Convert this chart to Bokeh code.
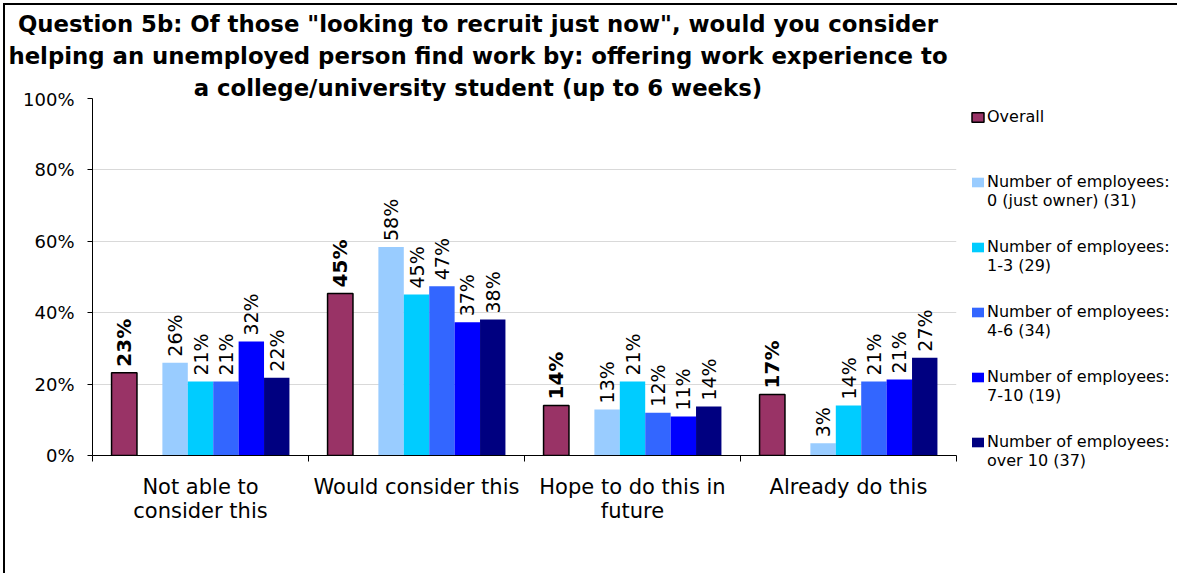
import numpy as np
from bokeh.plotting import figure
from bokeh.layouts import column
from bokeh.models import Range1d, FixedTicker, PrintfTickFormatter, Legend, LegendItem, Div
from bokeh.core.properties import value
from bokeh.embed import file_html
from bokeh.resources import INLINE

# ---------------- data ----------------
categories = ["Not able to\nconsider this", "Would consider this",
              "Hope to do this in\nfuture", "Already do this"]
series_names = ["Overall",
                "Number of employees:\n0 (just owner) (31)",
                "Number of employees:\n1-3 (29)",
                "Number of employees:\n4-6 (34)",
                "Number of employees:\n7-10 (19)",
                "Number of employees:\nover 10 (37)"]
overall = [23.2, 45.4, 14.0, 17.1]
emp_0 = [26.0, 58.4, 12.9, 3.4]
emp_1_3 = [20.7, 45.1, 20.7, 14.0]
emp_4_6 = [20.7, 47.4, 12.0, 20.7]
emp_7_10 = [31.9, 37.3, 10.9, 21.3]
emp_over_10 = [21.8, 38.1, 13.7, 27.4]
y_ticks = [0, 20, 40, 60, 80, 100]
title_lines = ['Question 5b: Of those &quot;looking to recruit just now&quot;, would you consider',
               'helping an unemployed person find work by: offering work experience to',
               'a college/university student (up to 6 weeks)']
colors = ["#993366", "#99CCFF", "#00CCFF", "#3366FF", "#0000FF", "#000080"]

series = [overall, emp_0, emp_1_3, emp_4_6, emp_7_10, emp_over_10]
slots = [0, 2, 3, 4, 5, 6]          # slot 1 is an empty gap in each group
n_slots_total = 8.5                 # 7 slots + 150% gap width
bar_w = 1.0 / n_slots_total
FONT = "DejaVu Sans"

p = figure(frame_width=864, frame_height=357,
           min_border_left=87, min_border_right=215,
           min_border_top=10, min_border_bottom=118,
           x_range=Range1d(0, 4), y_range=Range1d(0, 100),
           output_backend="svg", toolbar_location=None, tools="")
p.outline_line_color = None
p.background_fill_alpha = 0
p.border_fill_alpha = 0

group_idx = np.arange(len(categories))
renderers = []
for i, (vals, slot, col) in enumerate(zip(series, slots, colors)):
    xs = group_idx + (0.75 + slot + 0.5) / n_slots_total
    if i == 0:
        r = p.vbar(x=xs, top=vals, bottom=0, width=bar_w, fill_color=col,
                   line_color="black", line_width=1.5)
    else:
        r = p.vbar(x=xs, top=vals, bottom=0, width=bar_w, fill_color=col,
                   line_color=None)
    renderers.append(r)
    labels = ["%d%%" % round(v) for v in vals]
    p.text(x=xs, y=vals, text=labels, angle=np.pi / 2,
           text_align="left", text_baseline="middle", y_offset=-6,
           text_font=value(FONT),
           text_font_size="20px" if i == 0 else "19px",
           text_font_style="bold" if i == 0 else "normal",
           text_color="black")

# axes
p.xaxis.ticker = FixedTicker(ticks=list(group_idx + 0.5),
                             minor_ticks=list(range(len(categories) + 1)))
p.xaxis.major_label_overrides = {float(g + 0.5): c for g, c in zip(group_idx, categories)}
p.xaxis.major_tick_out = 0
p.xaxis.major_tick_in = 0
p.xaxis.minor_tick_out = 6
p.xaxis.minor_tick_in = 0
p.xaxis.minor_tick_line_color = "black"
p.xaxis.axis_line_color = "black"
p.xaxis.major_label_text_font = FONT
p.xaxis.major_label_text_font_size = "21px"
p.xaxis.major_label_text_line_height = 1.0
p.xaxis.major_label_text_color = "black"
p.xaxis.major_label_standoff = 13

p.yaxis.ticker = FixedTicker(ticks=y_ticks)
p.yaxis.formatter = PrintfTickFormatter(format="%d%%")
p.yaxis.major_tick_out = 5
p.yaxis.major_tick_in = 0
p.yaxis.minor_tick_out = 0
p.yaxis.minor_tick_in = 0
p.yaxis.axis_line_color = "black"
p.yaxis.major_tick_line_color = "black"
p.yaxis.major_label_text_font = FONT
p.yaxis.major_label_text_font_size = "18px"
p.yaxis.major_label_text_color = "black"
p.yaxis.major_label_standoff = 13

p.xgrid.visible = False
p.ygrid.grid_line_color = "#D9D9D9"

# legend: pad each label with a blank first line so the glyph (vertically
# centred in the item) sits beside the first text line
legend_labels = [" \n" + n + ("\n " if "\n" not in n else "") for n in series_names]
legend = Legend(items=[LegendItem(label=n, renderers=[r]) for n, r in zip(legend_labels, renderers)],
                location=(14, -15), spacing=8, padding=0, margin=0,
                glyph_width=15, glyph_height=12, label_standoff=2,
                label_text_font=FONT, label_text_font_size="16px",
                label_text_color="black",
                border_line_color=None, background_fill_alpha=0)
p.add_layout(legend, "right")

title_div = Div(text="<br>".join(title_lines), width=946, height=80, margin=(3, 0, 0, 0),
                styles={"font-family": FONT, "font-weight": "bold", "font-size": "22.8px",
                        "line-height": "32px", "text-align": "center", "color": "black",
                        "overflow": "visible", "white-space": "nowrap"})

layout = column(title_div, p, spacing=0,
                styles={"border-left": "2px solid black", "border-top": "2px solid black",
                        "margin-left": "3px", "margin-top": "3px", "background": "white"})

open("out.html", "w").write(file_html(layout, INLINE))
